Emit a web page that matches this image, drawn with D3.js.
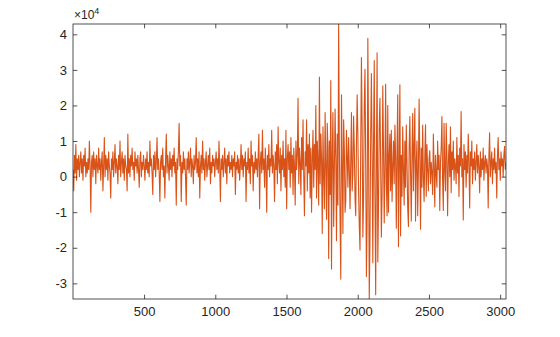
<!DOCTYPE html>
<html>
<head>
<meta charset="utf-8">
<script src="https://cdn.jsdelivr.net/npm/d3@7"></script>
<style>
  body { margin: 0; background: #fff; }
  svg text { font-family: "Liberation Sans", Arial, Helvetica, sans-serif; fill: #262626; }
</style>
</head>
<body>
<div id="chart"></div>
<script>
// signal, in thousands, one value every 5 samples
const sampleStep = 5;
const signalK = [
  2, -4, 6, 1, 9, -1, 5, 2, 6, 0, 4, 7, 1, 5, -1, 6, 3, 8, 0, 4,
  1, 5, 2, 10, 3, -10, 4, 6, 0, 7, 2, 5, -2, 6, 3, 1, 8, 2, 5, -1,
  4, 7, -4, 3, 11, 0, 6, 2, 5, -1, 7, 3, 1, -6, 5, 2, 7, 0, 4, 9,
  1, 5, 3, -2, 6, 2, 10, 0, 4, 7, 1, 5, -1, 6, 3, 2, -4, 12, 1, 5,
  0, 6, 3, 8, 2, 4, -1, 7, 3, 5, 1, 6, 2, -3, 5, 7, 0, 4, 2, 6,
  3, -1, 5, 2, 7, 1, 4, 0, 10, 3, 5, 1, -5, 6, 2, 7, 0, 4, 11, 2,
  5, 1, -7, 4, 6, 2, 8, 0, 3, -6, 5, 12, 1, 6, 3, -1, 7, 2, 5, 0,
  6, 3, 8, 1, 4, -8, 5, 2, 7, 15, 3, 6, -7, 4, 1, 7, 2, 5, 0, -8,
  5, 2, 7, 1, 4, 8, 0, 5, 3, -2, 6, 2, 4, 11, 1, 5, 0, 7, -6, 3,
  6, 1, 10, 2, 5, -1, 4, 7, 0, 3, 6, 2, 8, -2, 4, 1, 6, 3, 5, 0,
  4, 7, 2, 5, 1, 10, 3, -7, 5, 2, 6, 0, 4, 8, 1, 5, -2, 6, 3, 7,
  1, 4, 2, 6, 0, 5, 3, 7, -5, 4, 2, 6, 1, 5, -1, 3, 9, 2, 6, 0,
  5, 3, 7, -7, 4, 2, 8, 1, 5, -2, 10, 3, 6, -4, 4, 1, 7, 2, 5, 0,
  6, 12, -9, 4, 7, 1, 13, 2, 5, -3, 8, 3, -10, 6, 2, 9, 0, 5, 3, 13,
  1, 6, 3, -7, 7, 2, 9, -2, 14, 4, 1, 8, -4, 6, 2, 10, 0, 5, -3, 13,
  -9, 5, 9, 2, 7, -3, 11, 1, 6, -5, 8, 3, -8, 10, 2, 6, 22, -2, 8, 4,
  -5, 11, 2, 16, 0, -11, 7, 3, 16, -4, 9, 1, 12, -6, 8, -10, 5, 13, -3, 9,
  2, 20, -6, 10, 4, -8, 28, -2, 12, 5, -16, 14, 0, -9, 18, 3, -12, 15, 8, -23,
  10, -5, 27, -26, 6, 18, -14, 2, 19, 5, -18, 12, -8, 42.9, 9, -12, -28.8, 23, 4, -16,
  16, 8, -10, -7, 13, 6, -3, 11, 2, -9, 5, 18, -4, 1, 17, 8, -6, -11, 9, 23,
  12, -4, -14, -20.6, 8, 33.5, 14, -17, -6, 20, 30.2, 4, -28.1, -12, 38.9, 10, -34.4, -18, 12, 29,
  6, -24.2, 10, 32.6, -6, -33.2, 4, 34.8, -24, -8, 14, 22, 3, -17, -5, 25.5, 8, -13, 2, 26,
  -2, -11, 20, -10, 6, 12, -4, 13, -7, 3, 10, -2, 14.5, 5, -14.5, 8, 23, -19.7, 4, 25.8,
  -16.7, 6, -5.5, 14, 2, -8, 10, -3, 14.5, 4, -9, -14, 8, 16.9, 1, -12.5, 6, 17.8, -4, 9,
  19.2, -12.5, 4, 10, -11, 2, 21.8, 5, -14.8, 8, -3, 14.5, 0, -7, 6, 14.6, -5.5, 9, 2, -4,
  5, 7.3, -2, 4, 1, -5, 12, 3, -8.5, 6, 1, -3, 10, 2, 6, -9.5, 4, 8, 16.9, -1,
  -9.5, 15, 2, -4, 15, 6, -11, 4, 9, 0, 14, -4.5, 7, 2, 10, -1, 5, 3, -2, 11,
  1, 6, -5.6, 8, 3, 18.3, 0, 5, -12.2, 9, 2, 7, -3, 6, 1, 12, 4, -8.8, 7, 3,
  10, -2, 5, 2, 7, -1, 4, 9, 1, 6, 3, -4.5, 7, 0, 5, 2, 8, -1, 4, 6,
  1, 5, 3, -8.8, 6, 12.3, 0, 4, 7, -2, 5, 2, 8, 1, 4, -6, 6, 11, 2, 5,
  -1, 7, 3, 5, 0, 6, 8.5, 2, 4
];

const xTicks = [500, 1000, 1500, 2000, 2500, 3000];
const yTicks = [-3, -2, -1, 0, 1, 2, 3, 4];   // x 10^4
const yExponent = 4;

const width = 560;
const height = 337;
const margin = { top: 24, right: 54, bottom: 38, left: 73 };
const innerW = width - margin.left - margin.right;
const innerH = height - margin.top - margin.bottom;
const tickLen = 4.3;

const points = signalK.map((v, i) => ({ x: 1 + i * sampleStep, y: v * 1000 }));

const svg = d3.select('#chart').append('svg')
    .attr('width', width)
    .attr('height', height);

const g = svg.append('g')
    .attr('transform', `translate(${margin.left},${margin.top})`);

const x = d3.scaleLinear()
    .domain(d3.extent(points, d => d.x))
    .range([0, innerW]);

const y = d3.scaleLinear()
    .domain(d3.extent(points, d => d.y))
    .range([innerH, 0]);

g.append('defs').append('clipPath').attr('id', 'clip')
  .append('rect').attr('width', innerW).attr('height', innerH);

// signal line
g.append('path')
    .datum(points)
    .attr('clip-path', 'url(#clip)')
    .attr('fill', 'none')
    .attr('stroke', '#D95319')
    .attr('stroke-width', 1.1)
    .attr('stroke-linejoin', 'round')
    .attr('d', d3.line().x(d => x(d.x)).y(d => y(d.y)));

// axes, ticks pointing inward
function styleAxis(sel) {
    sel.select('.domain').remove();
    sel.selectAll('line').attr('stroke', '#262626').attr('stroke-width', 0.8);
    sel.selectAll('text').attr('fill', '#262626').style('font-size', '13px');
}

g.append('g')
    .attr('transform', `translate(0,${innerH})`)
    .call(d3.axisBottom(x).tickValues(xTicks).tickSize(-tickLen).tickPadding(8).tickFormat(d => d))
    .call(styleAxis);

g.append('g')
    .call(d3.axisTop(x).tickValues(xTicks).tickSize(-tickLen).tickFormat(''))
    .call(styleAxis);

g.append('g')
    .call(d3.axisLeft(y).tickValues(yTicks.map(d => d * 1e4)).tickSize(-tickLen).tickPadding(6)
        .tickFormat(d => String(Math.round(d / 1e4))))
    .call(styleAxis);

g.append('g')
    .attr('transform', `translate(${innerW},0)`)
    .call(d3.axisRight(y).tickValues(yTicks.map(d => d * 1e4)).tickSize(-tickLen).tickFormat(''))
    .call(styleAxis);

// box
g.append('rect')
    .attr('width', innerW)
    .attr('height', innerH)
    .attr('fill', 'none')
    .attr('stroke', '#262626')
    .attr('stroke-width', 0.8);

// exponent label
const expLabel = g.append('text')
    .attr('x', 1)
    .attr('y', -5)
    .style('font-size', '12px');
expLabel.append('tspan').text('×10');
expLabel.append('tspan').attr('dy', -5).style('font-size', '9px').text(yExponent);
</script>
</body>
</html>
